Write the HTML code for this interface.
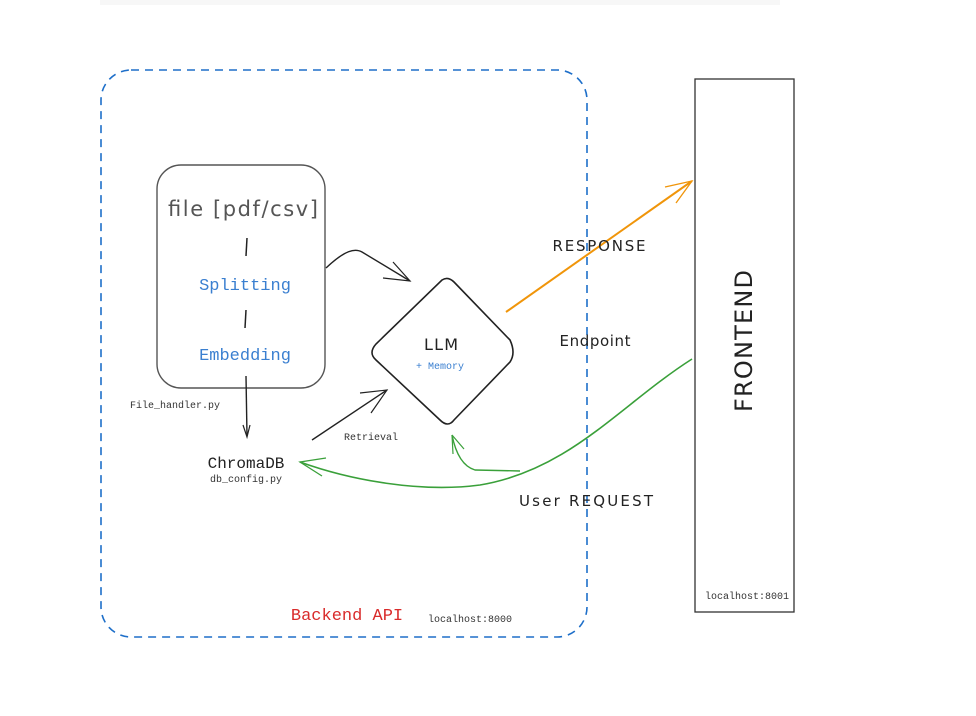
<!DOCTYPE html>
<html><head><style>
body{margin:0;background:#fff;}
svg{display:block}
.hand{font-family:"Comic Sans MS","DejaVu Sans",sans-serif;}
.mono{font-family:"Liberation Mono","DejaVu Sans Mono",monospace;}
</style></head><body>
<svg width="976" height="716" viewBox="0 0 976 716" xmlns="http://www.w3.org/2000/svg">
<rect x="100" y="0" width="680" height="5" fill="#f7f7f7"/>
<rect x="101" y="70" width="486" height="567" rx="30" fill="none" stroke="#1e6fc9" stroke-width="1.6" stroke-dasharray="8,6"/>
<rect x="695" y="79" width="99" height="533" fill="none" stroke="#333" stroke-width="1.3"/>
<rect x="157" y="165" width="168" height="223" rx="24" fill="none" stroke="#555" stroke-width="1.4"/>
<text x="243" y="216" text-anchor="middle" class="hand" font-size="21" fill="#555" textLength="150">file [pdf/csv]</text>
<line x1="247" y1="238" x2="246" y2="256" stroke="#222" stroke-width="1.5"/>
<text x="245" y="290" text-anchor="middle" class="mono" font-size="17" fill="#3a7fd0">Splitting</text>
<line x1="246" y1="310" x2="245" y2="328" stroke="#222" stroke-width="1.5"/>
<text x="245" y="360" text-anchor="middle" class="mono" font-size="17" fill="#3a7fd0">Embedding</text>
<text x="175" y="408" text-anchor="middle" class="mono" font-size="10" fill="#333">File_handler.py</text>
<path d="M246 376 L247 436" stroke="#222" stroke-width="1.4" fill="none"/>
<path d="M243 425 L247 437 L250 425" stroke="#222" stroke-width="1.2" fill="none"/>
<text x="246" y="468" text-anchor="middle" class="mono" font-size="16" fill="#222">ChromaDB</text>
<text x="246" y="482" text-anchor="middle" class="mono" font-size="10" fill="#333">db_config.py</text>
<path d="M326 268 C345 250 355 248 362 252 L410 281" stroke="#222" stroke-width="1.4" fill="none"/>
<path d="M393 262 L410 281 L383 278" stroke="#222" stroke-width="1.2" fill="none"/>
<path d="M442 280 Q448 276 454 282 L510 340 Q516 353 510 362 L454 420 Q448 428 440 420 L376 360 Q368 353 376 344 Z" fill="none" stroke="#222" stroke-width="1.6"/>
<text x="441" y="350" text-anchor="middle" class="hand" font-size="16" fill="#222" textLength="34">LLM</text>
<text x="440" y="369" text-anchor="middle" class="mono" font-size="10" fill="#3a7fd0">+ Memory</text>
<path d="M312 440 L387 390" stroke="#222" stroke-width="1.4" fill="none"/>
<path d="M360 393 L387 390 L371 413" stroke="#222" stroke-width="1.2" fill="none"/>
<text x="371" y="440" text-anchor="middle" class="mono" font-size="10" fill="#333">Retrieval</text>
<path d="M506 312 L692 181" stroke="#f0950a" stroke-width="2" fill="none"/>
<path d="M665 187 L692 181 L676 203" stroke="#f0950a" stroke-width="1.3" fill="none"/>
<text x="599" y="251" text-anchor="middle" class="hand" font-size="15" fill="#222" textLength="93">RESPONSE</text>
<text x="595" y="346" text-anchor="middle" class="hand" font-size="15" fill="#222" textLength="71">Endpoint</text>
<path d="M692 359 C620 405 570 470 480 485 C420 493 350 480 300 462" stroke="#3aa03a" stroke-width="1.6" fill="none"/>
<path d="M326 458 L300 462 L322 476" stroke="#3aa03a" stroke-width="1.3" fill="none"/>
<path d="M520 471 L475 470 Q458 465 452 435" stroke="#3aa03a" stroke-width="1.4" fill="none"/>
<path d="M452 435 L464 449 M452 435 L453 454" stroke="#3aa03a" stroke-width="1.2" fill="none"/>
<text x="586" y="506" text-anchor="middle" class="hand" font-size="15" fill="#222" textLength="134">User REQUEST</text>
<text transform="translate(752,341) rotate(-90)" text-anchor="middle" class="hand" font-size="24" fill="#222" textLength="142">FRONTEND</text>
<text x="347" y="620" text-anchor="middle" class="mono" font-size="17" fill="#d92b2b">Backend API</text>
<text x="470" y="622" text-anchor="middle" class="mono" font-size="10" fill="#333">localhost:8000</text>
<text x="747" y="599" text-anchor="middle" class="mono" font-size="10" fill="#333">localhost:8001</text>
</svg>
</body></html>
